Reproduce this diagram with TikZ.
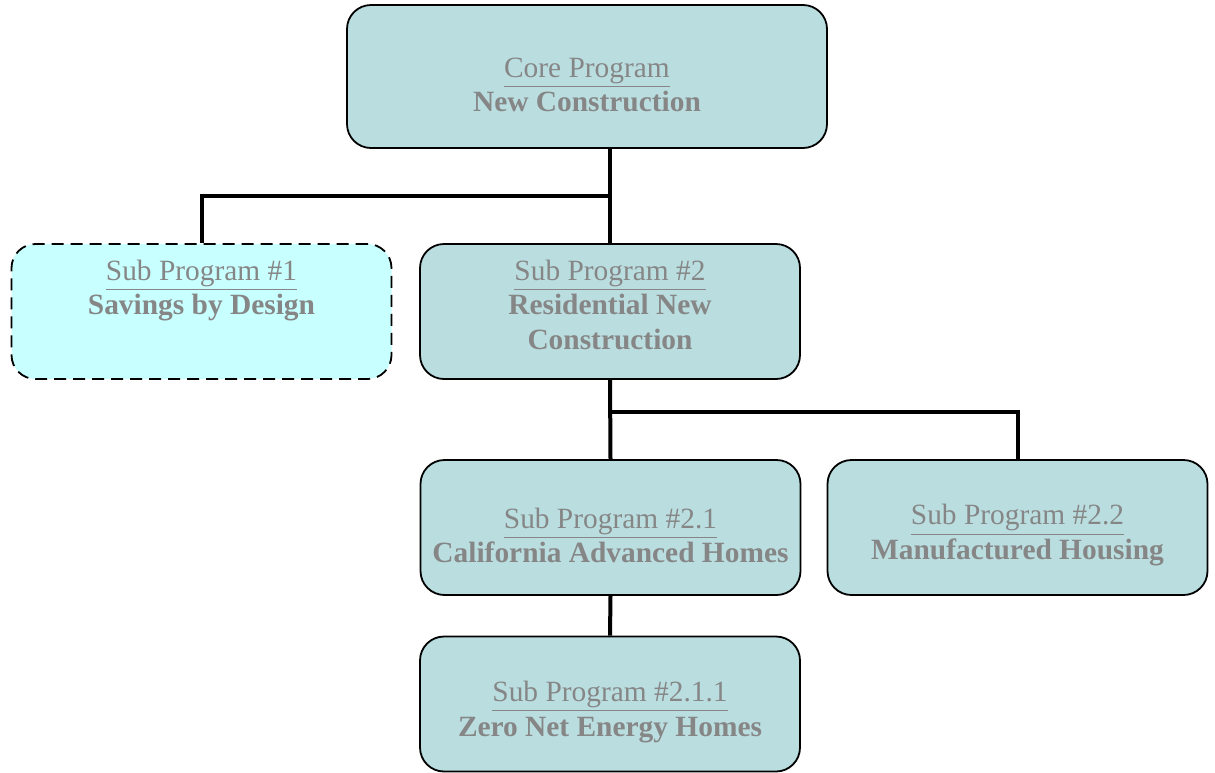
\documentclass[tikz,border=0pt]{standalone}
\usepackage{fontspec}
\setmainfont{Liberation Serif}
\usepackage{tikz}
\usetikzlibrary{calc}

\definecolor{boxfill}{HTML}{BADEE0}
\definecolor{dashfill}{HTML}{C8FFFF}
\definecolor{txtgray}{HTML}{868686}
\newcommand{\topgap}{\rule{0pt}{18pt}}

\begin{document}
\begin{tikzpicture}[x=0.5pt,y=-0.5pt,every text node part/.style={align=center}]
  \tikzstyle{prog}=[rectangle,rounded corners=12pt,draw=black,line width=0.9pt,
    fill=boxfill,text=txtgray,inner sep=2pt,
    font=\fontsize{14.7}{17.3}\selectfont,
    minimum width=190pt,minimum height=67.5pt]
  \tikzstyle{upper}=[execute at end node={\rule[-7pt]{0pt}{7pt}}]
  \tikzstyle{link}=[draw=black,line width=2pt]

  \useasboundingbox (0,0) rectangle (1215,772);

  \node [prog,minimum width=240pt,minimum height=71.5pt] (core) at (587,76.5) {
    \topgap\underline{Core Program}\\
    \textbf{New Construction}
  };
  \node [prog,upper,fill=dashfill,dash pattern=on 6pt off 3.5pt] (sub1) at (201.5,311.5) {
    \underline{Sub Program \#1}\\
    \textbf{Savings by Design}\\
    \vphantom{C}
  };
  \node [prog,upper] (sub2) at (610,311.5) {
    \underline{Sub Program \#2}\\
    \textbf{Residential New}\\
    \textbf{Construction}
  };
  \node [prog] (sub21) at (610.5,527.5) {
    \topgap\underline{Sub Program \#2.1}\\
    \textbf{California Advanced Homes}
  };
  \node [prog] (sub22) at (1017.5,527.5) {
    \topgap\underline{Sub Program \#2.2}\\
    \textbf{Manufactured Housing}
  };
  \node [prog] (sub211) at (610,704) {
    \topgap\underline{Sub Program \#2.1.1}\\
    \textbf{Zero Net Energy Homes}
  };

  % junctions
  \coordinate (j1) at (610,195.5);
  \coordinate (j2) at (610,411.5);

  \draw [link] (core.south -| sub2.north) -- (sub2.north);
  \draw [link] (sub1.north) |- (j1);
  \draw [link] (sub2.south) -- (sub21.north);
  \draw [link] (sub22.north) |- (j2);
  \draw [link] (sub21.south) -- (sub211.north);
\end{tikzpicture}
\end{document}
